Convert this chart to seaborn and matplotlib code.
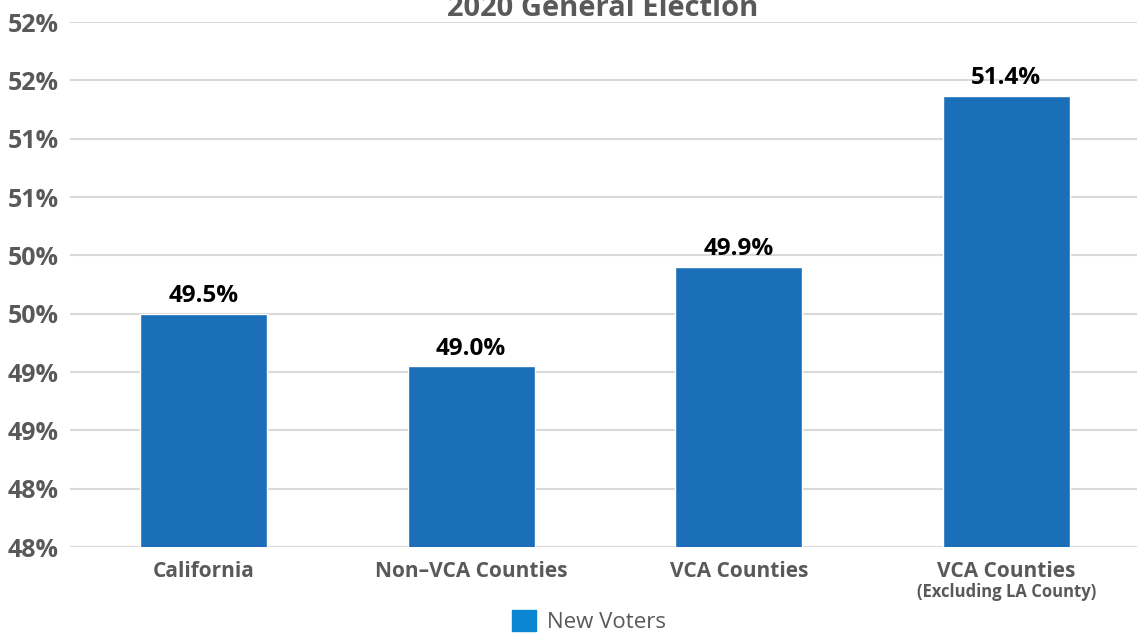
import matplotlib
matplotlib.use('Agg')
import matplotlib.pyplot as plt
import matplotlib.patches as mpatches
import seaborn as sns
import pandas as pd

# turnout share of new voters, 2020 general election
categories = ['California', 'Non\u2013VCA Counties', 'VCA Counties', 'VCA Counties ']
values = [49.5, 49.05, 49.9, 51.37]
value_labels = ['49.5%', '49.0%', '49.9%', '51.4%']
yticks = [47.5, 48.0, 48.5, 49.0, 49.5, 50.0, 50.5, 51.0, 51.5, 52.0]
ytick_labels = ['48%', '48%', '49%', '49%', '50%', '50%', '51%', '51%', '52%', '52%']

df = pd.DataFrame({'Group': categories, 'Share': values})

sns.set_style('white')
plt.rcParams['font.family'] = ['Open Sans', 'DejaVu Sans']

fig = plt.figure(figsize=(11.37, 6.34), dpi=100)
ax = fig.add_axes([70 / 1137, 1 - 547 / 634, 1070 / 1137, 525 / 634])

sns.barplot(x='Group', y='Share', data=df, color='#1a6fb8', width=0.475,
            saturation=1, ax=ax, zorder=3)

ax.set_ylim(47.5, 52.0)
ax.set_xlim(-0.5, 3.5)
ax.set_yticks(yticks)
ax.set_yticklabels(ytick_labels, fontsize=18, fontweight='bold', color='#595959')
ax.set_xticks(range(4))
ax.set_xticklabels(['California', 'Non\u2013VCA Counties', 'VCA Counties', 'VCA Counties'],
                   fontsize=15, fontweight='bold', color='#595959')
ax.tick_params(axis='y', length=0, pad=8)
ax.tick_params(axis='x', length=0, pad=10)
ax.yaxis.grid(True, color='#d9d9d9', linewidth=1.5, zorder=0)
ax.set_axisbelow(True)
for s in ax.spines.values():
    s.set_visible(False)
ax.set_xlabel('')
ax.set_ylabel('')

# value labels above the bars
for i, (v, lab) in enumerate(zip(values, value_labels)):
    ax.annotate(lab, xy=(i, v), xytext=(0, 4), textcoords='offset points',
                ha='center', va='bottom', fontsize=17.5, fontweight='bold', color='black')

# sub caption under the last category
ax.annotate('(Excluding LA County)', xy=(3, 0), xycoords=('data', 'axes fraction'),
            xytext=(0, -26), textcoords='offset points', ha='center', va='top',
            fontsize=12, fontweight='bold', color='#595959')

# title sits mostly above the canvas, as in the source image
fig.text(0.53, 0.975, '2020 General Election', ha='center', va='baseline',
         fontsize=21, fontweight='bold', color='#595959')

handle = mpatches.Patch(color='#0a87d0', label='New Voters')
leg = fig.legend(handles=[handle], loc='lower center', bbox_to_anchor=(0.518, -0.03),
                 frameon=False, fontsize=16, handlelength=1.1, handleheight=1.1,
                 handletextpad=0.5)
for t in leg.get_texts():
    t.set_color('#595959')

fig.savefig('out.png', dpi=100)
